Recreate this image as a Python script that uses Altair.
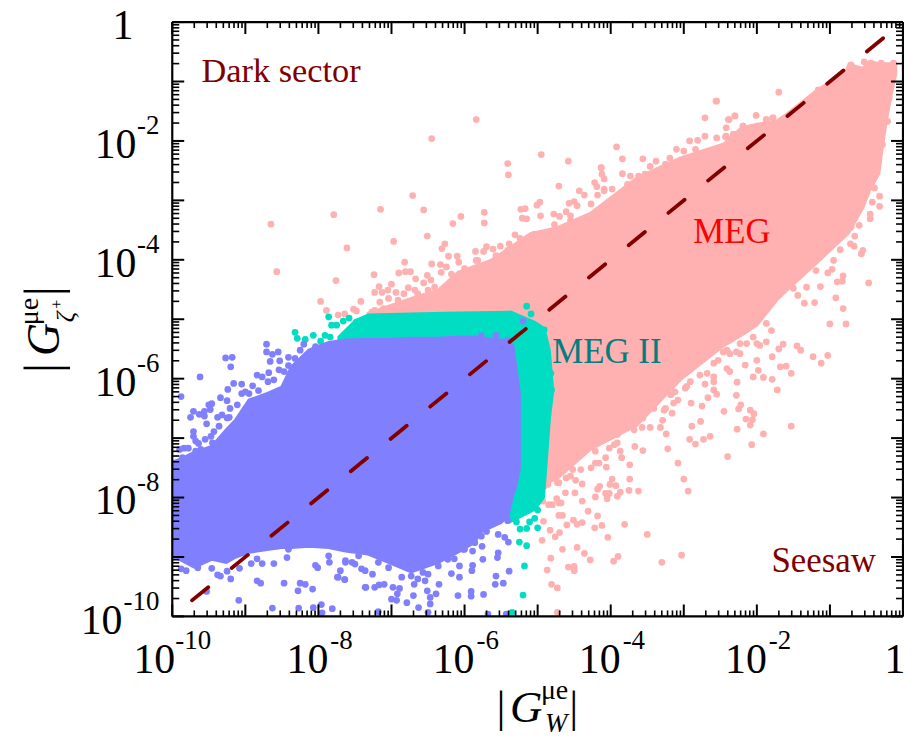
import altair as alt
import pandas as pd

# All values below are log10 of the couplings.
# --- filled envelopes ---
pink_x = [-7.32,-6.68,-6.36,-6.09,-5.64,-5.37,-5.10,-4.73,-4.28,-3.64,-3.05,-2.45,-2.21,-2.00,-1.73,-1.59,-1.19,-0.78,-0.74,-0.55,-0.46,-0.33,-0.29,-0.23,-0.16,-0.10]
pink_hi = [-4.90,-4.63,-4.51,-4.21,-4.01,-3.79,-3.56,-3.46,-3.22,-2.62,-2.29,-2.05,-1.78,-1.72,-1.67,-1.55,-1.16,-0.83,-0.71,-0.78,-0.66,-0.70,-0.70,-0.70,-0.70,-0.70]
pink_lo = [-6.36,-6.36,-6.36,-6.36,-7.19,-7.53,-7.86,-7.68,-7.19,-6.78,-6.02,-5.44,-5.27,-5.10,-4.68,-4.51,-4.06,-3.59,-3.54,-3.12,-2.84,-2.55,-2.17,-1.67,-1.21,-0.88]

green_x = [-7.72,-7.49,-7.32,-6.27,-5.37,-5.04,-4.92,-4.89,-4.84,-4.80]
green_hi = [-5.30,-5.02,-4.93,-4.90,-4.88,-5.05,-5.15,-5.27,-5.52,-6.11]
green_lo = [-5.35,-5.35,-6.36,-7.19,-8.40,-8.20,-8.00,-7.53,-6.69,-6.27]

blue_x = [-10,-9.90,-9.70,-9.46,-9.26,-9.13,-8.95,-8.68,-8.50,-8.37,-8.13,-7.86,-7.63,-7.32,-7.04,-6.73,-6.36,-6.09,-5.86,-5.78,-5.50,-5.41,-5.34,-5.31,-5.25]
blue_hi = [-7.40,-7.36,-7.24,-7.14,-6.86,-6.69,-6.36,-6.24,-6.14,-5.80,-5.52,-5.39,-5.35,-5.34,-5.34,-5.32,-5.32,-5.30,-5.30,-5.32,-5.35,-5.37,-5.44,-5.69,-6.24]
blue_lo = [-8.99,-9.04,-9.17,-9.04,-9.09,-9.00,-8.92,-8.87,-8.84,-8.84,-8.82,-8.84,-8.90,-8.95,-9.09,-9.25,-9.09,-8.92,-8.75,-8.58,-8.42,-8.32,-7.95,-7.86,-7.53]

# --- scattered points outside the filled bodies ---
pink_px = [-5.84,-6.45,-4.95,-5.41,-5.40,-4.58,-4.13,-4.12,-4.09,-4.22,-4.19,-4.71,-4.43,-4.36,-4.18,-4.97,-5.01,-4.57,-4.50,-5.23,-5.17,-5.73,-5.73,-6.05,-6.16,-5.21,-5.15,-4.96,-4.78,-4.61,-4.70,-4.55,-4.77,-4.46,-6.71,-7.15,-6.56,-7.79,-8.65,-7.61,-6.97,-6.51,-6.27,-6.31,-5.31,-5.24,-5.39,-5.51,-5.70,-5.61,-5.74,-5.85,-6.10,-6.22,-6.08,-6.82,-6.45,-5.84,-5.43,-5.57,-6.33,-6.25,-6.32,-8.57,-7.24,-6.90,-6.81,-6.74,-6.67,-6.51,-6.46,-6.56,-7.76,-7.00,-7.17,-7.23,-7.13,-7.05,-6.94,-6.83,-6.77,-6.68,-6.50,-7.04,-7.16,-6.91,-7.42,-7.97,-7.89,-7.73,-7.64,-7.52,-7.48,-7.27,-7.11,
 -1.70,-2.01,-2.30,-2.38,-2.42,-2.19,-1.87,-1.78,-2.32,-2.43,-2.55,-1.16,-0.71,-0.53,-0.44,-0.30,-0.13,-0.19,-0.21,-0.28,-0.32,-0.32,-0.42,-0.39,-0.45,-0.45,-0.60,-0.71,-0.66,-0.72,-0.67,-0.55,-0.57,-0.86,-0.95,-0.97,-1.03,-1.19,-0.82,-0.83,-0.90,-0.47,-1.13,-0.92,-1.32,-1.50,-1.44,-1.21,-1.35,-0.82,
 -1.00,-0.78,-1.45,-1.40,-1.64,-1.70,-1.23,-1.03,-1.12,-1.79,-1.68,-1.60,-1.53,-1.79,-1.91,-2.05,-1.98,-2.16,-2.00,-2.27,-1.72,-2.28,-2.22,-2.25,-2.09,-2.04,-2.15,-2.06,-2.09,-2.27,-1.53,-1.91,-2.07,-2.40,-2.45,-2.75,-2.90,-2.67,-2.55,-2.59,-2.71,-2.59,-2.77,-2.89,-2.64,-2.73,-2.92,-2.84,-3.29,-3.32,-3.24,-3.46,-3.57,-3.56,-3.22,-3.56,-3.67,-3.08,-3.00,-2.94,-3.62,-3.75,-3.87,-3.91,-3.74,-3.74,-3.87,-3.85,-3.98,-4.01,-3.93,-4.07,-4.02,-4.05,-4.21,-4.18,-4.15,-4.07,-4.06,-4.39,-4.48,-4.49,-4.39,-4.62,-4.71,-4.68,-4.74,-4.85,-4.31,-4.18,-4.71,-4.66,-4.51,-4.46,-4.39,-4.60,-4.92,-4.83,-4.70,-4.76,-4.94,-4.22,-4.12,-3.81,-4.04,-3.50,-4.66,-4.46,-4.36,-4.28,-3.90,-3.96,-3.30,-3.03,-4.82,-4.87,-4.58,-4.50,-4.50,-4.81,-4.73,-4.73,
 -2.41,-2.00,-1.87,-2.23,-2.59,-2.96,-3.14,-3.27,-3.91,-4.21,-4.55,-4.91]
pink_py = [-1.64,-1.96,-2.23,-2.38,-2.57,-2.34,-2.45,-2.56,-2.64,-2.70,-2.77,-2.76,-2.84,-2.91,-2.91,-3.03,-3.08,-3.05,-3.02,-3.15,-3.14,-3.20,-3.38,-3.27,-3.39,-3.30,-3.31,-3.26,-3.23,-3.19,-3.27,-3.26,-3.41,-3.09,-2.92,-3.15,-3.16,-3.24,-3.40,-3.80,-3.69,-3.60,-3.73,-3.81,-3.58,-3.64,-3.73,-3.77,-3.78,-3.82,-3.86,-3.86,-3.94,-3.94,-4.04,-4.04,-4.07,-4.01,-3.90,-3.93,-4.08,-4.12,-4.21,-4.20,-4.25,-4.22,-4.20,-4.20,-4.32,-4.26,-4.34,-4.39,-4.35,-4.41,-4.45,-4.55,-4.55,-4.51,-4.55,-4.57,-4.47,-4.51,-4.51,-4.65,-4.71,-4.68,-4.70,-4.70,-4.85,-4.93,-4.91,-4.83,-4.86,-4.88,-4.82,
 -1.18,-1.57,-1.58,-1.64,-1.78,-1.75,-1.64,-1.61,-1.89,-1.93,-1.33,-1.14,-0.72,-0.67,-0.69,-0.69,-0.69,-1.28,-1.67,-2.06,-2.93,-3.10,-3.03,-2.79,-3.23,-3.31,-3.42,-3.45,-3.60,-3.73,-3.77,-3.84,-3.90,-3.83,-4.01,-4.16,-4.22,-4.18,-4.27,-4.36,-4.37,-4.39,-4.45,-4.64,-4.46,-4.48,-4.60,-4.72,-4.73,-4.82,
 -5.08,-5.08,-5.45,-5.52,-5.42,-5.50,-5.63,-5.61,-5.74,-5.63,-5.80,-5.79,-5.91,-6.01,-5.98,-5.97,-5.86,-5.77,-5.69,-6.06,-6.19,-6.28,-6.44,-6.51,-6.53,-6.59,-6.68,-6.69,-6.78,-6.85,-6.80,-6.93,-7.11,-7.31,-6.55,-6.46,-6.41,-6.32,-6.26,-6.19,-6.09,-6.05,-6.72,-6.80,-6.97,-7.02,-7.02,-7.10,-6.70,-6.82,-6.93,-6.82,-6.82,-6.66,-7.18,-7.21,-7.14,-7.42,-7.69,-7.89,-7.89,-7.88,-7.91,-7.98,-7.69,-7.45,-7.22,-7.33,-7.69,-7.78,-7.80,-7.93,-7.93,-8.02,-7.99,-7.86,-7.81,-7.33,-7.49,-7.77,-7.71,-7.92,-8.06,-7.92,-7.75,-8.09,-8.02,-8.12,-8.23,-8.31,-8.30,-8.30,-8.38,-8.45,-8.42,-8.46,-8.40,-8.55,-8.59,-8.66,-8.72,-8.51,-8.47,-8.45,-8.67,-8.62,-8.87,-8.84,-8.94,-9.05,-8.99,-9.07,-9.09,-8.97,-9.02,-9.22,-9.17,-9.16,-9.23,-9.46,-9.52,-9.93,
 -5.52,-5.41,-5.38,-5.58,-5.97,-6.13,-6.41,-6.53,-7.08,-7.42,-7.64,-7.81]

# points on the rough edge of the pink body
pink_edge_x = [-2.37,-2.23,-2.14,-1.96,-2.05,-1.80,-1.87,-2.46,-2.37,-2.28,-2.53,-2.59,-2.41,-2.37,-2.68,-2.78,-2.91,-2.98,-3.12,-3.18,-3.08,-3.25,-3.16,-3.41,-3.55,-3.77,-3.68,-3.91,-4.05,-3.95,-4.02,-4.21,-4.16,-4.27,-4.41,-4.52,-4.61,-4.73,-4.86,-4.93,-4.80,-4.71,
 -7.23,-6.91,-6.64,-6.41,-6.18,-6.00,-5.82,-5.41,-5.05,-4.55,-4.27,-4.09,
 -3.92,-3.84,-3.56,-4.13,-2.92,-2.81,-2.71,-2.55,-2.42,-2.32,-3.10,-3.00,-2.84,-3.38,-3.19,-3.46,-3.25,-3.73,-3.62,-3.84,-4.09,-3.98,-3.77,-3.53,-2.19,-1.87,-1.78,-2.71,-2.39,-2.30,-2.56]
pink_edge_y = [-5.35,-5.41,-5.41,-5.44,-5.30,-5.19,-5.07,-5.55,-5.58,-5.55,-5.69,-5.74,-5.83,-5.88,-5.91,-5.94,-6.05,-6.16,-6.22,-6.27,-6.36,-6.50,-6.58,-6.50,-6.55,-6.80,-6.86,-6.94,-7.00,-7.11,-7.17,-7.22,-7.42,-7.50,-7.53,-7.53,-7.67,-7.75,-7.78,-8.06,-8.12,-8.09,
 -4.85,-4.74,-4.57,-4.46,-4.24,-4.15,-4.01,-3.84,-3.57,-3.34,-3.06,-2.84,
 -2.10,-2.30,-2.30,-2.45,-2.00,-1.99,-1.92,-1.95,-1.92,-1.89,-2.14,-2.17,-2.14,-2.34,-2.29,-2.43,-2.39,-2.59,-2.59,-2.55,-2.81,-2.81,-2.73,-2.56,-1.75,-1.64,-1.61,-1.61,-1.64,-1.58,-1.33]

green_px = [-8.32,-8.29,-8.18,-8.07,-7.97,-7.91,-7.86,-7.82,-7.75,-7.66,-7.58,-7.84,-7.48,-5.15,-5.09,-5.25,-5.29,-5.24,-5.15,-5.11,-5.04,-5.00,-5.13,-5.00,-5.25,-5.15,-5.18,-5.20,-5.35,-4.91,-4.84,-4.82,-4.82,-4.81,-4.89,-4.91,-4.92]
green_py = [-5.22,-5.32,-5.34,-5.27,-5.37,-5.27,-4.96,-5.10,-5.10,-5.03,-4.98,-5.30,-5.05,-4.78,-4.91,-8.28,-8.41,-8.53,-8.52,-8.41,-8.35,-8.21,-8.17,-8.51,-8.75,-8.81,-9.15,-9.64,-9.93,-5.18,-5.91,-6.22,-5.91,-6.19,-6.58,-7.08,-7.53]

blue_px = [-5.20,-5.57,-5.77,-5.41,
 -8.71,-8.71,-8.63,-8.55,-8.66,-8.53,-8.41,-8.25,-8.20,-9.27,-9.18,-9.20,-9.62,-8.84,-8.77,-8.68,-8.54,-8.41,-9.16,-9.05,-8.90,-8.69,-9.24,-9.00,-8.82,-9.88,-9.34,-9.25,-9.05,-9.50,-9.46,-9.48,-9.21,-9.71,-9.75,-9.63,-9.56,-9.56,-9.38,-9.32,-9.22,-9.53,-9.71,-9.71,-9.68,-9.55,-9.64,-9.43,-9.45,-9.84,-9.78,-9.90,-9.68,
 -9.88,-9.81,-9.65,-9.46,-9.38,-9.34,-9.25,-9.20,-9.53,-9.09,-9.08,-8.92,-8.84,-8.77,-8.61,-8.84,-8.79,-8.47,-8.04,-8.01,-7.85,-8.25,-8.18,-8.28,-8.08,-7.74,-7.64,-7.70,-7.63,-7.36,-8.63,-8.27,-8.07,-7.96,-7.81,-7.95,-8.43,-7.86,-8.41,-7.41,
 -7.64,-7.35,-7.23,-7.17,-7.10,-6.98,-6.89,-6.92,-7.00,-6.93,-6.79,-6.63,-6.70,-6.69,-6.51,-6.47,-6.39,-6.47,-6.35,-6.09,-5.91,-5.91,-5.74,-6.07,-6.18,-5.90,-5.89,-5.58,-5.47,-5.57,-5.39,-5.75,-5.55,-5.54,-5.40,-5.45,-5.54,-5.70,-5.76,-5.89,-6.02,-6.14,-6.07,-6.50,-6.57,-6.86,-7.26,-7.36,-7.54,-7.73,-6.54,-5.41,-7.18,-6.50,-5.68,-5.43,
 -6.36,-6.23,-6.00,-5.86,-5.77,-6.73,-6.64,-7.04,-7.18,-7.45,-7.63,-7.50,
 -8.04,-8.32,-8.47,-8.61,-8.95,-9.11,-9.25,-9.36,-9.47,-9.61,-9.86]
blue_py = [-5.03,-5.27,-5.28,-5.35,
 -5.42,-5.55,-5.59,-5.55,-5.71,-5.70,-5.64,-5.52,-5.42,-5.65,-5.64,-5.80,-5.97,-5.94,-5.97,-5.90,-5.85,-5.78,-6.08,-6.09,-6.12,-6.05,-6.18,-6.22,-6.20,-6.30,-6.32,-6.37,-6.25,-6.44,-6.42,-6.52,-6.50,-6.55,-6.65,-6.60,-6.55,-6.63,-6.65,-6.61,-6.65,-6.76,-6.89,-6.97,-7.05,-7.02,-7.09,-6.89,-7.08,-7.17,-7.17,-7.19,-7.22,
 -9.20,-9.23,-9.18,-9.19,-9.30,-9.32,-9.24,-9.37,-9.58,-9.73,-9.19,-9.11,-9.03,-9.11,-9.11,-9.40,-9.44,-9.44,-9.14,-9.18,-9.09,-9.44,-9.46,-9.57,-9.54,-9.34,-9.38,-9.23,-9.09,-9.51,-9.86,-9.86,-9.85,-9.80,-9.87,-9.94,-9.01,-8.98,-8.87,-9.20,
 -9.38,-9.51,-9.51,-9.47,-9.46,-9.51,-9.53,-9.62,-9.71,-9.73,-9.77,-9.85,-9.65,-9.46,-9.57,-9.68,-9.62,-9.79,-9.46,-9.65,-9.58,-9.66,-9.63,-9.34,-9.28,-9.23,-9.14,-9.46,-9.44,-9.32,-9.24,-9.04,-9.01,-8.93,-8.75,-8.67,-8.62,-8.57,-8.82,-8.90,-8.87,-9.03,-9.15,-9.29,-9.26,-9.34,-9.29,-9.23,-9.09,-9.34,-9.40,-8.39,-9.92,-9.93,-9.96,-9.96,
 -9.15,-9.04,-8.87,-8.76,-8.65,-9.32,-9.37,-9.18,-9.09,-8.98,-9.06,-9.12,
 -5.46,-5.66,-5.88,-6.02,-6.25,-6.44,-6.66,-6.80,-6.97,-7.19,-7.33]

# --- reference line G_zeta = G_W ---
line_ends = [-9.73, -0.26]

# --- ticks ---
decades = list(range(-10, 1))
multipliers = [2, 3, 4, 5, 6, 7, 8, 9]
major_ticks = [10.0 ** d for d in decades]
minor_ticks = [m * 10.0 ** d for d in decades[:-1] for m in multipliers]

SERIF = "Liberation Serif"
PINK, GREEN, BLUE = "#FFB0B0", "#00DDC2", "#8080FF"
DARK = "#800000"
W, H = 734, 597

sx = alt.Scale(type="log", domain=[1e-10, 1], nice=False)
sy = alt.Scale(type="log", domain=[1e-10, 1], nice=False)
X = alt.X("x:Q", scale=sx, axis=None)
Y = alt.Y("y:Q", scale=sy, axis=None)


def p(values):
    return [10.0 ** v for v in values]


def area(xs, hi, lo, color):
    df = pd.DataFrame({"x": p(xs), "y": p(hi), "y2": p(lo)})
    return alt.Chart(df).mark_area(color=color, clip=True, opacity=1, stroke=color, strokeWidth=3).encode(
        x=X, y=Y, y2=alt.Y2("y2:Q"))


def dots(xs, ys, color):
    df = pd.DataFrame({"x": p(xs), "y": p(ys)})
    return alt.Chart(df).mark_circle(color=color, size=46, opacity=1, clip=True).encode(x=X, y=Y)


def label(text, xs, ys, size, **kw):
    df = pd.DataFrame({"x": xs, "y": ys, "t": [text] * len(xs)})
    kw.setdefault("color", "black")
    kw.setdefault("baseline", "alphabetic")
    return alt.Chart(df).mark_text(font=SERIF, fontSize=size, **kw).encode(x=X, y=Y, text="t:N")


def vticks(vals, y0, y1, width):
    df = pd.DataFrame({"x": vals})
    return alt.Chart(df).mark_rule(color="black", strokeWidth=width).encode(
        x=X, y=alt.value(y0), y2=alt.value(y1))


def hticks(vals, x0, x1, width):
    df = pd.DataFrame({"y": vals})
    return alt.Chart(df).mark_rule(color="black", strokeWidth=width).encode(
        y=Y, x=alt.value(x0), x2=alt.value(x1))


def frame(x0, x1, y0, y1):
    return alt.Chart(pd.DataFrame({"a": [0]})).mark_rule(color="black", strokeWidth=2.2).encode(
        x=alt.value(x0), x2=alt.value(x1), y=alt.value(y0), y2=alt.value(y1))


layers = [
    area(pink_x, pink_hi, pink_lo, PINK),
    dots(pink_px + pink_edge_x, pink_py + pink_edge_y, PINK),
    area(green_x, green_hi, green_lo, GREEN),
    dots(green_px, green_py, GREEN),
    area(blue_x, blue_hi, blue_lo, BLUE),
    dots(blue_px, blue_py, BLUE),
    alt.Chart(pd.DataFrame({"x": p(line_ends), "y": p(line_ends)})).mark_line(
        color=DARK, strokeWidth=3.8, strokeCap="round", strokeDash=[21, 30.4]).encode(x=X, y=Y),
    label("Dark sector", [10 ** -9.60], [10 ** -1.01], 34.5, color=DARK, align="left"),
    label("Seesaw", [10 ** -1.80], [10 ** -9.25], 35, color=DARK, align="left"),
    label("MEG", [10 ** -2.87], [10 ** -3.71], 35, color="#FF0000", align="left"),
    label("MEG II", [10 ** -4.80], [10 ** -5.74], 35, color="#007F7F", align="left"),
    # ticks on all four sides, pointing inwards
    vticks(major_ticks, H, H - 12, 2),
    vticks(minor_ticks, H, H - 6, 1.6),
    vticks(major_ticks, 0, 12, 2),
    vticks(minor_ticks, 0, 6, 1.6),
    hticks(major_ticks, 0, 12, 2),
    hticks(minor_ticks, 0, 7, 1.6),
    hticks(major_ticks, W, W - 12, 2),
    hticks(minor_ticks, W, W - 7, 1.6),
    frame(0, W, 0, 0), frame(0, W, H, H), frame(0, 0, 0, H), frame(W, W, 0, H),
]

# y tick labels
for e in ["-2", "-4", "-6", "-8"]:
    v = 10.0 ** int(e)
    layers.append(label("10", [1e-10], [v], 42, align="right", dx=-36, dy=17))
    layers.append(label(e, [1e-10], [v], 27, align="right", dx=-13, dy=-7))
layers.append(label("10", [1e-10], [1e-10], 42, align="right", dx=-50, dy=18))
layers.append(label("-10", [1e-10], [1e-10], 27, align="right", dx=-13, dy=-6))
layers.append(label("1", [1e-10], [1.0], 42, align="right", dx=-39, dy=17))

# x tick labels
layers.append(label("10", [1e-10], [1e-10], 42, align="right", dx=3, dy=57))
layers.append(label("-10", [1e-10], [1e-10], 27, align="left", dx=3, dy=33))
for e in ["-8", "-6", "-4", "-2"]:
    v = 10.0 ** int(e)
    layers.append(label("10", [v], [1e-10], 42, align="right", dx=10, dy=57))
    layers.append(label(e, [v], [1e-10], 27, align="left", dx=12, dy=33))
layers.append(label("1", [1.0], [1e-10], 42, align="center", dx=-8, dy=57))

# x axis title  |G^{mu e}_W|
tx = 10 ** -5.50
layers += [
    label("|", [tx], [1e-10], 45, align="center", dy=106),
    label("G", [tx], [1e-10], 45, align="left", fontStyle="italic", dx=9, dy=106),
    label("\u03bce", [tx], [1e-10], 28, align="left", dx=40, dy=83),
    label("W", [tx], [1e-10], 27, align="left", fontStyle="italic", dx=44, dy=116),
    label("|", [tx], [1e-10], 45, align="center", dx=73, dy=106),
]

# y axis title  |G^{mu e}_{zeta+}|, rotated
layers += [
    label("|", [1e-10], [10 ** -5.82], 50, align="center", angle=270, dy=-114),
    label("G", [1e-10], [10 ** -5.62], 46, align="left", fontStyle="italic", angle=270, dy=-114),
    label("\u03bce", [1e-10], [10 ** -5.10], 28, align="left", angle=270, dy=-135),
    label("\u03b6", [1e-10], [10 ** -5.05], 26, align="left", fontStyle="italic", angle=270, dy=-99),
    label("+", [1e-10], [10 ** -4.75], 16, align="center", angle=270, dy=-111),
    label("|", [1e-10], [10 ** -4.53], 50, align="center", angle=270, dy=-114),
]

chart = alt.layer(*layers).properties(
    width=W, height=H,
    padding={"left": 165, "top": 12.5, "right": 1, "bottom": 122},
    autosize=alt.AutoSizeParams(type="none"),
    background="white",
).configure_view(stroke=None)

chart.save("out.html", embed_options={"renderer": "svg", "actions": False})
